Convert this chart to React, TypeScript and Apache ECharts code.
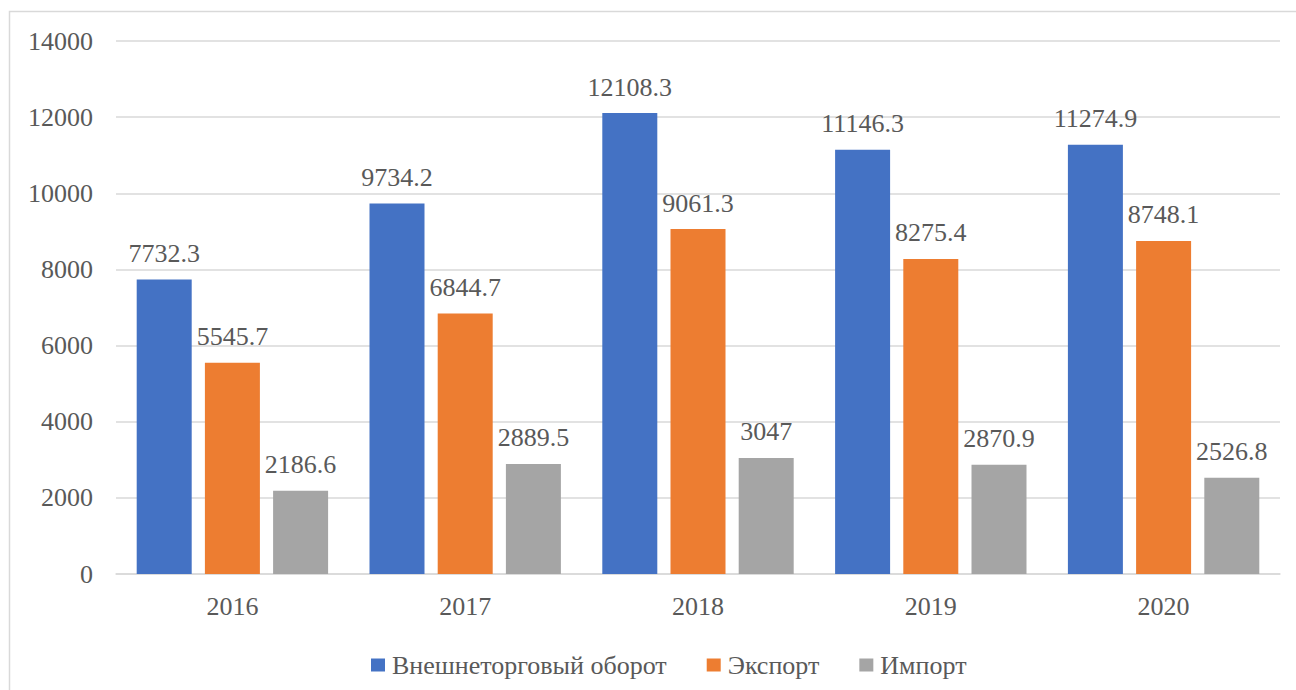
import React, { useEffect, useRef } from "react";
import * as echarts from "echarts";

const categories = ["2016", "2017", "2018", "2019", "2020"];
const turnover = [7732.3, 9734.2, 12108.3, 11146.3, 11274.9];
const exportVals = [5545.7, 6844.7, 9061.3, 8275.4, 8748.1];
const importVals = [2186.6, 2889.5, 3047, 2870.9, 2526.8];
const seriesNames = ["Внешнеторговый оборот", "Экспорт", "Импорт"];
const colors = ["#4472C4", "#ED7D31", "#A5A5A5"];

const FONT = "Liberation Serif";
const TXT = "#595959";

export default function App() {
  const ref = useRef<HTMLDivElement>(null);
  useEffect(() => {
    document.body.style.margin = "0";
    const chart = echarts.init(ref.current!, null, { renderer: "svg" });
    const label = {
      show: true,
      position: "top",
      distance: 13,
      color: TXT,
      fontFamily: FONT,
      fontSize: 26,
    };
    const data = [turnover, exportVals, importVals];
    chart.setOption({
      animation: false,
      backgroundColor: "#ffffff",
      textStyle: { fontFamily: FONT },
      graphic: [
        {
          type: "rect",
          shape: { x: 9.5, y: 11.5, width: 1300, height: 700 },
          style: { fill: "none", stroke: "#d9d9d9", lineWidth: 1.5 },
          silent: true,
        },
      ],
      grid: { left: 116, right: 16, top: 41, bottom: 116, containLabel: false },
      legend: {
        left: 366,
        top: 647,
        icon: "rect",
        itemWidth: 14,
        itemHeight: 13,
        itemGap: 40,
        textStyle: { color: TXT, fontFamily: FONT, fontSize: 26, padding: [0, 0, 0, 2] },
        data: seriesNames,
      },
      xAxis: {
        type: "category",
        data: categories,
        axisLine: { lineStyle: { color: "#d9d9d9", width: 1.5 } },
        axisTick: { show: false },
        axisLabel: { color: TXT, fontFamily: FONT, fontSize: 26, margin: 19 },
      },
      yAxis: {
        type: "value",
        min: 0,
        max: 14000,
        interval: 2000,
        axisLine: { show: false },
        axisTick: { show: false },
        splitLine: { lineStyle: { color: "#d9d9d9", width: 1.5 } },
        axisLabel: {
          color: TXT,
          fontFamily: FONT,
          fontSize: 26,
          margin: 23,
          formatter: (v: number) => String(v),
        },
      },
      series: seriesNames.map((name, i) => ({
        name,
        type: "bar",
        data: data[i],
        barWidth: 55,
        barGap: "24%",
        itemStyle: { color: colors[i] },
        label,
      })),
    });
    return () => chart.dispose();
  }, []);
  return (
    <div
      ref={ref}
      style={{ position: "absolute", left: 0, top: 0, width: 1296, height: 690 }}
    />
  );
}
